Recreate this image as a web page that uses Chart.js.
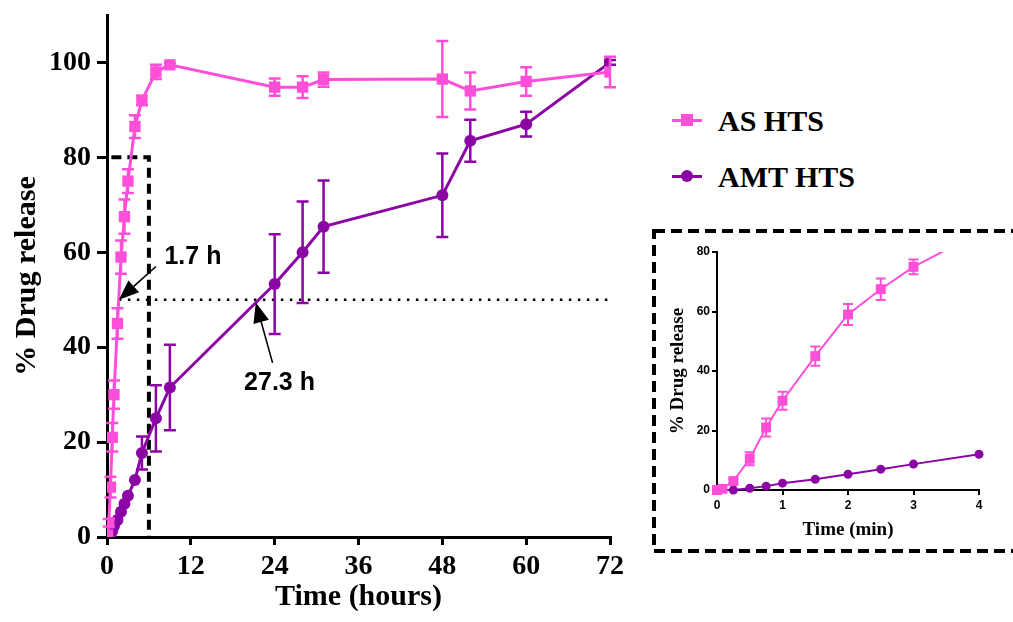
<!DOCTYPE html>
<html>
<head>
<meta charset="utf-8">
<script src="https://cdn.jsdelivr.net/npm/chart.js@4.4.1/dist/chart.umd.min.js"></script>
<style>
  body { margin: 0; background: #fff; }
  #wrap { position: relative; width: 1013px; height: 622px; background: #fff; overflow: hidden; }
  .abs { position: absolute; }
  .legtxt { font: bold 30px "Liberation Serif", serif; line-height: 36px; color: #000; white-space: nowrap; }
</style>
</head>
<body>
<div id="wrap">
  <canvas id="mainChart" class="abs" width="630" height="622" style="left:0;top:0"></canvas>

  <!-- legend -->
  <div class="abs" style="left:672px;top:119px;width:30px;height:3px;background:#FF4FD8"></div>
  <div class="abs" style="left:681px;top:114px;width:12px;height:12px;background:#FF4FD8"></div>
  <div class="abs legtxt" style="left:718px;top:103px">AS HTS</div>
  <div class="abs" style="left:672px;top:175px;width:30px;height:3px;background:#8B05A5"></div>
  <div class="abs" style="left:681px;top:170px;width:12px;height:12px;border-radius:50%;background:#8B05A5"></div>
  <div class="abs legtxt" style="left:718px;top:159px">AMT HTS</div>

  <canvas id="insetChart" class="abs" width="361" height="324" style="left:652px;top:229px"></canvas>
</div>

<script>
// Time points (hours) and % release
var asTimes = [0, 0.083, 0.25, 0.5, 0.75, 1, 1.5, 2, 2.5, 3, 4, 5, 7, 9, 24, 28, 31, 48, 52, 60, 72];
var asRelease = [0, 0.4, 3, 10.5, 21, 30, 45, 59, 67.5, 75, 86.5, 92, 98, 99.5, 94.8, 94.8, 96.4, 96.5, 94, 96, 98];
var asSd = [0, 0, 0.8, 2.2, 3, 3, 3.2, 3.5, 3.6, 2.5, 2.4, 1, 1.5, 0.4, 1.8, 2.3, 1.5, 8, 3.9, 3, 3.2];

var amtTimes = [0, 0.25, 0.5, 0.75, 1, 1.5, 2, 2.5, 3, 4, 5, 7, 9, 24, 28, 31, 48, 52, 60, 72];
var amtRelease = [0, 0, 0.6, 1.3, 2.3, 3.6, 5.3, 7, 8.7, 12, 17.7, 25, 31.5, 53.3, 60, 65.4, 72, 83.5, 87, 100];
var amtSd = [0, 0, 0, 0, 0, 0, 0, 0, 0, 0, 3.5, 7, 9, 10.5, 10.7, 9.7, 8.8, 4.4, 2.6, 0.5];

var mainXTicks = [0, 12, 24, 36, 48, 60, 72];
var mainYTicks = [0, 20, 40, 60, 80, 100];
var insetXTicks = [0, 1, 2, 3, 4];
var insetYTicks = [0, 20, 40, 60, 80];

// t50 markers and the zoomed region box
var halfLevel = 50;
var asT50 = 1.7;
var zoomBox = { x0: 0, x1: 6, y0: 0, y1: 80 };
var arrows = [
    { tip: [1.7, 50], tail: [7, 57], text: '1.7 h', at: [12.3, 58.9] },
    { tip: [21.3, 49.4], tail: [23.7, 36.7], text: '27.3 h', at: [24.7, 32.5] }
];

var PINK = '#FF4FD8';
var PURPLE = '#8B05A5';
var SERIF = '"Liberation Serif", "Times New Roman", serif';
var SANS = '"Liberation Sans", Arial, sans-serif';

function toPoints(xs, ys, maxX) {
    var pts = [];
    xs.forEach(function (x, i) {
        if (maxX === undefined || x <= maxX) pts.push({ x: x, y: ys[i] });
    });
    return pts;
}

// draws vertical error bars under each dataset that has an "errors" array
var errorBars = {
    id: 'errorBars',
    beforeDatasetDraw: function (chart, args, opts) {
        var ds = chart.data.datasets[args.index];
        if (!ds.errors) return;
        var ctx = chart.ctx, y = chart.scales.y, ca = chart.chartArea;
        ctx.save();
        ctx.beginPath();
        ctx.rect(ca.left - 15, ca.top - opts.topRoom, ca.right - ca.left + 30, ca.bottom - ca.top + opts.topRoom + 15);
        ctx.clip();
        ctx.strokeStyle = ds.borderColor;
        ctx.lineWidth = opts.width;
        args.meta.data.forEach(function (pt, i) {
            var e = ds.errors[i];
            if (!e) return;
            var v = ds.data[i].y;
            var top = y.getPixelForValue(v + e), bot = y.getPixelForValue(v - e);
            ctx.beginPath();
            ctx.moveTo(pt.x, top); ctx.lineTo(pt.x, bot);
            ctx.moveTo(pt.x - opts.cap, top); ctx.lineTo(pt.x + opts.cap, top);
            ctx.moveTo(pt.x - opts.cap, bot); ctx.lineTo(pt.x + opts.cap, bot);
            ctx.stroke();
        });
        ctx.restore();
    }
};

// arrows and labels for the t50 values
var t50Notes = {
    id: 't50Notes',
    afterDatasetsDraw: function (chart) {
        var ctx = chart.ctx, xs = chart.scales.x, ys = chart.scales.y;
        ctx.save();
        arrows.forEach(function (a) {
            var tx = xs.getPixelForValue(a.tip[0]), ty = ys.getPixelForValue(a.tip[1]);
            var sx = xs.getPixelForValue(a.tail[0]), sy = ys.getPixelForValue(a.tail[1]);
            var ang = Math.atan2(ty - sy, tx - sx);
            var headLen = 20, headW = 8;
            var bx = tx - headLen * Math.cos(ang), by = ty - headLen * Math.sin(ang);
            ctx.strokeStyle = '#000';
            ctx.fillStyle = '#000';
            ctx.lineWidth = 1.6;
            ctx.beginPath();
            ctx.moveTo(sx, sy); ctx.lineTo(bx, by);
            ctx.stroke();
            ctx.beginPath();
            ctx.moveTo(tx, ty);
            ctx.lineTo(bx + headW * Math.sin(ang), by - headW * Math.cos(ang));
            ctx.lineTo(bx - headW * Math.sin(ang), by + headW * Math.cos(ang));
            ctx.closePath();
            ctx.fill();

            ctx.font = 'bold 25px ' + SANS;
            ctx.textAlign = 'center';
            ctx.textBaseline = 'middle';
            ctx.fillText(a.text, xs.getPixelForValue(a.at[0]), ys.getPixelForValue(a.at[1]));
        });
        ctx.restore();
    }
};

// dashed frame around the inset
var insetFrame = {
    id: 'insetFrame',
    beforeDraw: function (chart) {
        var ctx = chart.ctx;
        ctx.save();
        ctx.strokeStyle = '#000';
        ctx.lineWidth = 4;
        ctx.setLineDash([11, 6]);
        ctx.strokeRect(2, 2, chart.width + 20, chart.height - 4);
        ctx.restore();
    }
};

function axisOpts(o) {
    return {
        type: 'linear',
        min: o.min,
        max: o.max,
        afterBuildTicks: function (scale) {
            scale.ticks = o.ticks.map(function (v) { return { value: v }; });
        },
        afterFit: function (s) {
            o.fit(s);
            // keep the plot box where the layout padding puts it
            s.paddingTop = 0;
            s.paddingBottom = 0;
        },
        border: { display: true, color: '#000', width: o.lw },
        grid: { drawOnChartArea: false, drawTicks: true, tickLength: o.tl, color: '#000', lineWidth: o.lw },
        ticks: { color: '#000', padding: o.pad, font: o.tickFont, autoSkip: false, maxRotation: 0 },
        title: { display: true, text: o.title, color: '#000', font: o.titleFont, padding: o.titlePad }
    };
}

new Chart(document.getElementById('mainChart'), {
    type: 'line',
    data: {
        datasets: [
            {
                label: 'AS HTS',
                data: toPoints(asTimes, asRelease),
                errors: asSd,
                borderColor: PINK, backgroundColor: PINK,
                borderWidth: 3, pointStyle: 'rect', pointRadius: 8, pointBorderWidth: 0
            },
            {
                label: 'AMT HTS',
                data: toPoints(amtTimes, amtRelease),
                errors: amtSd,
                borderColor: PURPLE, backgroundColor: PURPLE,
                borderWidth: 3, pointStyle: 'circle', pointRadius: 6, pointBorderWidth: 0
            },
            {
                label: 'box',
                data: [
                    { x: zoomBox.x0, y: zoomBox.y0 }, { x: zoomBox.x0, y: zoomBox.y1 },
                    { x: zoomBox.x1, y: zoomBox.y1 }, { x: zoomBox.x1, y: zoomBox.y0 }
                ],
                borderColor: '#000', borderWidth: 4, borderDash: [10, 6], pointRadius: 0
            },
            {
                label: 'half',
                data: [{ x: asT50, y: halfLevel }, { x: 72, y: halfLevel }],
                borderColor: '#000', borderWidth: 2.5, borderDash: [2.5, 6.5], pointRadius: 0
            }
        ]
    },
    options: {
        responsive: false,
        animation: false,
        devicePixelRatio: 1,
        layout: { padding: { top: 15, right: 20, left: 0, bottom: 0 } },
        plugins: {
            legend: { display: false },
            tooltip: { enabled: false },
            errorBars: { cap: 6, width: 2.5, topRoom: 20 }
        },
        scales: {
            x: axisOpts({
                min: 0, max: 72, ticks: mainXTicks, lw: 3, tl: 8, pad: 5,
                fit: function (s) { s.height = 85; },
                tickFont: { family: SERIF, size: 28, weight: 'bold' },
                title: 'Time (hours)', titleFont: { family: SERIF, size: 30, weight: 'bold' },
                titlePad: { top: 0, bottom: 7 }
            }),
            y: axisOpts({
                min: 0, max: 110, ticks: mainYTicks, lw: 3, tl: 10, pad: 6,
                fit: function (s) { s.width = 107; },
                tickFont: { family: SERIF, size: 28, weight: 'bold' },
                title: '% Drug release', titleFont: { family: SERIF, size: 30, weight: 'bold' },
                titlePad: { top: 9, bottom: 0 }
            })
        }
    },
    plugins: [errorBars, t50Notes]
});

new Chart(document.getElementById('insetChart'), {
    type: 'line',
    data: {
        datasets: [
            {
                label: 'AS HTS',
                data: toPoints(asTimes, asRelease, 4),
                errors: asSd,
                borderColor: PINK, backgroundColor: PINK,
                borderWidth: 2, pointStyle: 'rect', pointRadius: 7, pointBorderWidth: 0,
                clip: { left: 10, right: 10, top: 0, bottom: 10 }
            },
            {
                label: 'AMT HTS',
                data: toPoints(amtTimes, amtRelease, 4),
                errors: amtSd,
                borderColor: PURPLE, backgroundColor: PURPLE,
                borderWidth: 2, pointStyle: 'circle', pointRadius: 4.5, pointBorderWidth: 0,
                clip: { left: 10, right: 10, top: 0, bottom: 10 }
            }
        ]
    },
    options: {
        responsive: false,
        animation: false,
        devicePixelRatio: 1,
        layout: { padding: { top: 23, right: 34, left: 0, bottom: 0 } },
        plugins: {
            legend: { display: false },
            tooltip: { enabled: false },
            errorBars: { cap: 5, width: 2, topRoom: 0 }
        },
        scales: {
            x: axisOpts({
                min: 0, max: 4, ticks: insetXTicks, lw: 2, tl: 5, pad: 3,
                fit: function (s) { s.height = 63; },
                tickFont: { family: SANS, size: 12, weight: 'bold' },
                title: 'Time (min)', titleFont: { family: SERIF, size: 19, weight: 'bold' },
                titlePad: { top: 0, bottom: 12 }
            }),
            y: axisOpts({
                min: 0, max: 80, ticks: insetYTicks, lw: 2, tl: 5, pad: 2,
                fit: function (s) { s.width = 65; },
                tickFont: { family: SANS, size: 12, weight: 'bold' },
                title: '% Drug release', titleFont: { family: SERIF, size: 19, weight: 'bold' },
                titlePad: { top: 15, bottom: 0 }
            })
        }
    },
    plugins: [insetFrame, errorBars]
});
</script>
</body>
</html>
